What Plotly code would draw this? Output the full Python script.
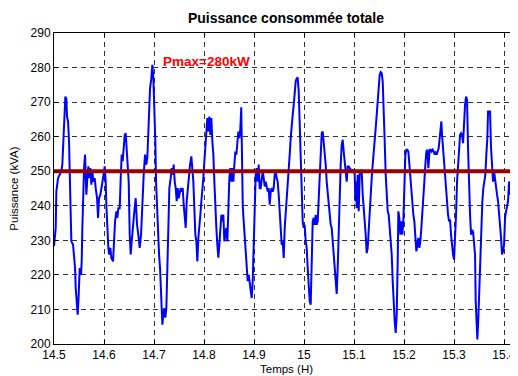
import plotly.graph_objects as go

# ---- Data (time in hours, power in kVA) ----
tA = [14.5000,14.5034,14.5047,14.5081,14.5114,14.5147,14.5167,14.5181,14.5201,14.5214,
      14.5227,14.5247,14.5261,14.5281,14.5301,14.5314,14.5327,14.5347,14.5381,14.5401,
      14.5421,14.5434,14.5461,14.5474,14.5494,14.5514,14.5541,14.5554,14.5567,14.5581,
      14.5601,14.5621,14.5647,14.5667,14.5687,14.5707,14.5727,14.5747,14.5767,14.5787,
      14.5814,14.5834,14.5861,14.5881,14.5901,14.5927,14.5954,14.5981,14.6014,14.6034,
      14.6047,14.6067,14.6087,14.6101,14.6127,14.6147,14.6181,14.6201,14.6221,14.6247,
      14.6267,14.6287,14.6314,14.6334,14.6354,14.6374,14.6394,14.6414,14.6434,14.6454,
      14.6474,14.6494,14.6514,14.6534,14.6554,14.6581,14.6607,14.6634,14.6661,14.6687,
      14.6714,14.6741,14.6767,14.6794,14.6821]
pA = [228.3,233.6,244.2,248,249,250,252,257.6,260.5,266.3,
      271.6,271,265.8,264.4,258.6,250,239.3,229.7,228.7,225.9,
      222,216.2,212.4,208.5,214.3,222,220,224,233.6,243.2,
      250.9,254.8,243.2,248,251.4,248,250.9,246.1,250,247,
      248,245.1,242.2,236.5,242.2,243.2,245.1,248,251.4,247,
      240.3,231.6,227.8,225.9,227.8,224.9,223.9,229.7,235.5,238.4,
      236.5,239.3,239.3,248,254.8,252.9,255.7,260.5,261,255.7,
      251.9,247,231.6,225.9,229.7,235.5,238.4,242.2,234.5,231.6,
      227.8,231.6,241.3,249,254.8]

tB = [14.6847,14.6867,14.6881,14.6901,14.6921,14.6947,14.6967,14.6987,14.7001,14.7014,
      14.7027,14.7041,14.7061,14.7081,14.7101,14.7121,14.7147,14.7167,14.7187,14.7207,
      14.7227,14.7247,14.7267,14.7287,14.7307,14.7334,14.7354,14.7374,14.7394,14.7414,
      14.7434,14.7454,14.7474,14.7494,14.7514,14.7534,14.7554,14.7574,14.7594,14.7614,
      14.7634,14.7654,14.7674,14.7694,14.7721,14.7747,14.7767,14.7787,14.7807,14.7827,
      14.7847,14.7867,14.7887,14.7907,14.7927,14.7947,14.7967,14.7987,14.8007,14.8027,
      14.8047,14.8067,14.8087,14.8107,14.8127,14.8147,14.8167,14.8187,14.8207,14.8227,
      14.8247,14.8267,14.8287,14.8307,14.8327,14.8347,14.8367,14.8387,14.8407,14.8427,
      14.8447,14.8467,14.8487,14.8507,14.8527,14.8547,14.8567,14.8587,14.8607,14.8627,
      14.8647,14.8667,14.8687,14.8707,14.8727,14.8745,14.8762,14.8775]
pB = [251.9,254,260.5,266.3,274,276.9,280.8,276.9,272.1,266.3,
      258.6,247,239.3,231.6,225.9,222,212.4,205.6,208.5,210.4,
      207.6,210.4,222,233.6,245.1,248,250.9,249,251.9,247,
      245.1,241.3,245.1,242.2,244.1,245.1,244.1,245.1,240.3,237.4,
      233.6,241.3,245.1,249,251.9,254.3,251,247,239.3,231.6,
      229.7,223.9,230.7,235.5,237.4,241.3,244.1,248,252.9,257.6,
      263.4,265.4,261.5,265.8,260.5,265.4,258.6,254.8,247,237.4,
      233.6,228.7,225,228.7,234.5,237.4,235.5,237.4,229.7,231.6,
      233.6,229.7,239.3,248,250.9,247,250.9,247,251.9,255.7,
      254.8,258.6,261.5,259.6,262.4,268.5,250,240]

tC = [14.8794,14.8814,14.8834,14.8854,14.8874,14.8894,14.8914,14.8934,14.8954,14.8974,
      14.8994,14.9014,14.9034,14.9054,14.9074,14.9094,14.9114,14.9134,14.9154,14.9174,
      14.9194,14.9214,14.9234,14.9254,14.9274,14.9294,14.9314,14.9334,14.9354,14.9374,
      14.9394,14.9414,14.9434,14.9454,14.9474,14.9494,14.9514,14.9534,14.9554,14.9574,
      14.9594,14.9614,14.9634,14.9654,14.9674,14.9694,14.9714,14.9734,14.9754,14.9774,
      14.9794,14.9814,14.9834,14.9854,14.9874,14.9894,14.9914,14.9934,14.9954,14.9974,
      14.9994,15.0014,15.0034,15.0054,15.0074,15.0094,15.0114,15.0134,15.0154,15.0174,
      15.0194,15.0214,15.0234,15.0254,15.0274,15.0294,15.0314,15.0334,15.0354,15.0374,
      15.0394,15.0414,15.0434,15.0454,15.0474,15.0494,15.0514,15.0534,15.0554,15.0574,
      15.0594,15.0614,15.0634,15.0654,15.0674,15.0694]
pC = [235.5,231.6,227.8,223.9,218.2,220,218.2,216.2,213.3,218.2,
      229.7,243.2,249,250.9,247,251.9,245.1,245.1,247,250,
      248,245.6,247,245.1,244.1,245.1,240.3,244.1,245.1,244.1,
      245.1,249,250,248,247,243.2,237.4,231.6,228.7,229.7,
      224.9,233.6,237.4,242.2,247,250.9,254.8,259.6,264.4,266.3,
      269.2,273.1,276,276.9,277.1,273.1,264.4,251.9,244.1,235.5,
      233.6,234.5,229.7,227.8,222,216.2,212.4,211.4,221,235.5,
      236.5,234.5,237.4,234.5,235.5,243.2,250,256.7,261,261.5,
      258.6,256.7,251.9,247,243.2,239.3,236.5,234.5,233.6,229.7,
      225.9,224,218,214.5,222,233]

tD = [15.0714,15.0734,15.0754,15.0774,15.0794,15.0814,15.0834,15.0854,15.0874,15.0894,
      15.0914,15.0934,15.0954,15.0974,15.0994,15.1014,15.1027,15.1041,15.1054,15.1074,
      15.1094,15.1114,15.1134,15.1154,15.1174,15.1194,15.1214,15.1234,15.1254,15.1274,
      15.1294,15.1314,15.1334,15.1354,15.1374,15.1394,15.1414,15.1434,15.1454,15.1474,
      15.1494,15.1514,15.1534,15.1554,15.1574,15.1594,15.1614,15.1634,15.1654,15.1674,
      15.1694,15.1714,15.1734,15.1754,15.1774,15.1794,15.1814,15.1834,15.1854,15.1874,
      15.1887,15.1907,15.1927,15.1947,15.1967,15.1987,15.2007,15.2027,15.2047,15.2067,
      15.2087,15.2107,15.2127,15.2147,15.2167,15.2187,15.2207,15.2227,15.2247,15.2267,
      15.2287,15.2307,15.2327,15.2347,15.2367,15.2387,15.2407,15.2427,15.2447,15.2467,
      15.2487]
pD = [245.1,252,257.6,259.1,255.7,251.9,248,247,251.4,251.4,
      250.9,250.4,250.4,250,250.4,249,241.3,247,239.3,249,
      238.4,249,250.4,250,243.2,240.3,235.5,231.6,226.3,227.8,
      233.6,239.3,243.2,248,251.9,254.8,258.6,262.5,266.3,270.2,
      274,277.9,278.7,278.4,276,269.2,258.6,249,243.2,238.4,
      237.4,233.6,229.7,225.9,218.2,210.4,206.6,203.2,208.5,224,
      238.4,236.5,231.6,235.5,231.6,235.5,245.1,254.8,256.2,256.2,
      255.7,251.9,247,243.2,241.3,237.4,235.5,229.7,226.8,228.7,
      230.7,227.8,229.7,233.6,237.4,243.2,247,251.9,255.7,256.2,
      250.9]

tE = [15.2514,15.2534,15.2554,15.2574,15.2594,15.2614,15.2634,15.2654,15.2674,15.2694,
      15.2714,15.2734,15.2747,15.2761,15.2781,15.2801,15.2821,15.2841,15.2861,15.2881,
      15.2901,15.2921,15.2941,15.2961,15.2981,15.3001,15.3021,15.3041,15.3061,15.3081,
      15.3101,15.3121,15.3141,15.3161,15.3181,15.3201,15.3221,15.3241,15.3261,15.3281,
      15.3301,15.3321,15.3341,15.3361,15.3381,15.3401,15.3421,15.3434,15.3454,15.3467,
      15.3487,15.3507,15.3527,15.3547,15.3567,15.3587,15.3607,15.3627,15.3647,15.3667,
      15.3681,15.3701,15.3721,15.3741,15.3761,15.3781,15.3801,15.3821,15.3841,15.3861,
      15.3881,15.3901,15.3921,15.3941,15.3961,15.3981,15.4001,15.4021,15.4041,15.4061,
      15.4081,15.4101,15.4121,15.4141,15.4161,15.4181,15.4201,15.4221,15.4241,15.4261]
pE = [256.2,256.2,255.7,256.2,255.7,254.8,255.7,254.8,255.7,256.7,
      259.6,262.5,264.4,260.5,256.7,250.9,247,243.2,241.3,237.4,
      235.5,236,231.6,227.8,225.9,224.4,229.7,237.4,247,252.9,
      255.7,260.5,261,260.5,258.1,264.4,269.2,271.6,270.7,256.7,
      243.2,237.4,231.6,233,232.6,229.7,225.9,212.4,206.6,201.3,
      207.6,217.2,227.8,235.5,241.3,245.1,247,249,254.8,259.6,
      267.3,267.3,267.3,256.7,249,247,250,247,245.1,243.2,
      241.3,238.4,234.5,230.7,225.9,226.8,228.7,236.5,238.4,240.3,
      241.3,247,243.2,248,245.1,249,247,250.9,254.8,255.7]

ref_level = 250            # horizontal reference line (kVA)
x_limits = [14.5, 15.428]
y_limits = [200, 290]
x_ticks = [14.5, 14.6, 14.7, 14.8, 14.9, 15.0, 15.1, 15.2, 15.3, 15.4]
x_tick_labels = ["14.5", "14.6", "14.7", "14.8", "14.9", "15", "15.1", "15.2", "15.3", "15.4"]
y_ticks = [200, 210, 220, 230, 240, 250, 260, 270, 280, 290]
pmax_label = "Pmax=280kW"
pmax_pos = (14.7136, 281.7)

time = tA + tB + tC + tD + tE
power = pA + pB + pC + pD + pE

FONT = "Liberation Sans, Arial, Helvetica, sans-serif"

# The page body adds an 8px offset, so the figure is 8px smaller on each side.
W, H = 510, 368

fig = go.Figure()
fig.add_trace(go.Scatter(x=time, y=power, mode="lines",
                         line=dict(color="#0000ff", width=2), hoverinfo="skip"))
fig.add_trace(go.Scatter(x=x_limits, y=[ref_level, ref_level], mode="lines",
                         line=dict(color="#990000", width=4), hoverinfo="skip"))

axis_common = dict(
    showline=True, linecolor="black", linewidth=1,
    ticks="inside", ticklen=4, tickcolor="black",
    showgrid=True, gridcolor="#333333", gridwidth=1, griddash="5px,4px",
    zeroline=False, automargin=False,
    tickfont=dict(family=FONT, size=12, color="black"),
)

fig.update_xaxes(range=x_limits, tickvals=x_ticks, ticktext=x_tick_labels,
                 mirror="ticks", **axis_common)
fig.update_yaxes(range=y_limits, tickvals=y_ticks, **axis_common)

fig.update_layout(
    width=W, height=H,
    margin=dict(l=46, r=0, t=25, b=32, autoexpand=False),
    plot_bgcolor="white", paper_bgcolor="white",
    showlegend=False,
    title=dict(text="<b>Puissance consommée totale</b>",
               x=0.5, xref="paper", xanchor="center",
               y=1 - 10 / H, yref="container", yanchor="middle",
               font=dict(family=FONT, size=14, color="black")),
    annotations=[
        dict(text=pmax_label, x=pmax_pos[0], y=pmax_pos[1], xref="x", yref="y",
             xanchor="left", yanchor="middle", showarrow=False,
             font=dict(family=FONT, size=13.5, color="#ff0000", weight="bold")),
        dict(text="Temps (H)", x=0.5, y=-0.08, xref="paper", yref="paper",
             xanchor="center", yanchor="middle", showarrow=False,
             font=dict(family=FONT, size=11.5, color="black")),
        dict(text="Puissance (kVA)", x=-0.088, y=0.5, xref="paper", yref="paper",
             xanchor="center", yanchor="middle", showarrow=False, textangle=-90,
             font=dict(family=FONT, size=11.5, color="black")),
    ],
)

fig.write_html("out.html")
